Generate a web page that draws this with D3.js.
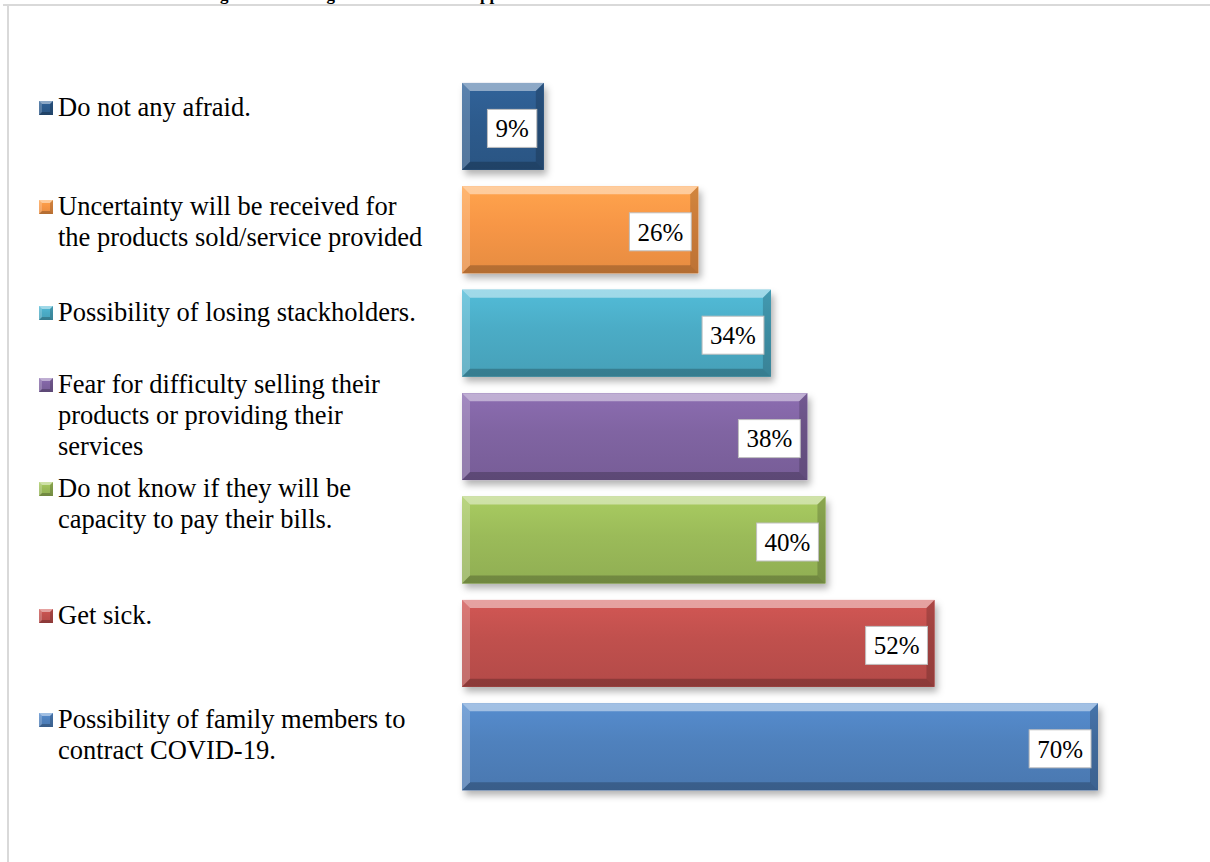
<!DOCTYPE html>
<html>
<head>
<meta charset="utf-8">
<script src="https://cdn.jsdelivr.net/npm/d3@7"></script>
<style>
  html, body { margin: 0; padding: 0; background: #ffffff; }
  svg { display: block; }
</style>
</head>
<body>
<svg id="chart" width="1210" height="862"></svg>
<script>
// Apprehensions of business women in relation to COVID-19 (share of respondents)
const categories = [
  "Do not any afraid.",
  "Uncertainty will be received for the products sold/service provided",
  "Possibility of losing stackholders.",
  "Fear for difficulty selling their products or providing their services",
  "Do not know if they will be capacity to pay their bills.",
  "Get sick.",
  "Possibility of family members to contract COVID-19."
];
const values = [9, 26, 34, 38, 40, 52, 70];
const palette = ["#2D5B8D", "#F79646", "#4BACC6", "#8064A2", "#9BBB59", "#C0504D", "#4F81BD"];
const titleText = "Figure 6: Existing business women's apprehensions in relation to COVID-19";

// legend row baselines (first line of each entry)
const legendRowY = [116, 215, 321, 393, 497, 624, 728];

const W = 1210, H = 862;
const svg = d3.select("#chart");
const serif = "'Times New Roman', 'Liberation Serif', Times, serif";

// frame and caption running off the top edge
svg.append("text")
  .attr("x", 205).attr("y", -0.5)
  .attr("font-family", serif).attr("font-weight", "bold").attr("font-size", 17)
  .attr("fill", "#000").text(titleText);

svg.append("path")
  .attr("d", `M3,5H${W}M8,5V${H}`)
  .attr("fill", "none").attr("stroke", "#d9d9d9").attr("stroke-width", 2);

const x = d3.scaleLinear().domain([0, d3.max(values)]).range([462, 1098]);
const y = d3.scaleBand().domain(categories).range([74.7, 798.5])
  .paddingInner(0.16).paddingOuter(0.08);

const defs = svg.append("defs");
const shadow = defs.append("filter").attr("id", "shadow")
  .attr("x", "-10%").attr("y", "-20%").attr("width", "130%").attr("height", "150%");
shadow.append("feDropShadow").attr("dx", 3).attr("dy", 5)
  .attr("stdDeviation", 3.5).attr("flood-color", "#000").attr("flood-opacity", 0.3);

palette.forEach((c, i) => {
  const g = defs.append("linearGradient").attr("id", "fill" + i)
    .attr("x1", 0).attr("y1", 0).attr("x2", 0).attr("y2", 1);
  g.append("stop").attr("offset", "0%").attr("stop-color", d3.color(c).brighter(0.25));
  g.append("stop").attr("offset", "45%").attr("stop-color", c);
  g.append("stop").attr("offset", "100%").attr("stop-color", d3.color(c).darker(0.2));
});

// bevelled bar: body plus light/dark edge facets
function bevel(sel, x0, y0, w, h, b, i) {
  const x1 = x0 + w, y1 = y0 + h;
  sel.append("rect").attr("x", x0).attr("y", y0).attr("width", w).attr("height", h)
    .attr("fill", `url(#fill${i})`);
  const facet = (pts, col, op) => sel.append("polygon")
    .attr("points", pts.map(p => p.join(",")).join(" "))
    .attr("fill", col).attr("fill-opacity", op);
  facet([[x0, y0], [x1, y0], [x1 - b, y0 + b], [x0 + b, y0 + b]], "#ffffff", 0.45);
  facet([[x0, y1], [x1, y1], [x1 - b, y1 - b], [x0 + b, y1 - b]], "#000000", 0.22);
  facet([[x0, y0], [x0 + b, y0 + b], [x0 + b, y1 - b], [x0, y1]], "#ffffff", 0.2);
  facet([[x1, y0], [x1 - b, y0 + b], [x1 - b, y1 - b], [x1, y1]], "#000000", 0.18);
}

const bars = svg.append("g").selectAll("g.bar")
  .data(categories.map((c, i) => ({ c, v: values[i], i })))
  .join("g").attr("class", "bar");

bars.each(function (d) {
  const g = d3.select(this);
  const bg = g.append("g").attr("filter", "url(#shadow)");
  bg.append("rect").attr("x", x(0)).attr("y", y(d.c))
    .attr("width", x(d.v) - x(0)).attr("height", y.bandwidth())
    .attr("fill", palette[d.i]);
  bevel(g, x(0), y(d.c), x(d.v) - x(0), y.bandwidth(), 8, d.i);

  // value label in a white box at the bar end
  const cy = y(d.c) + y.bandwidth() / 2;
  const lbl = g.append("g");
  const t = lbl.append("text")
    .attr("font-family", serif).attr("font-size", 25).attr("fill", "#000")
    .attr("text-anchor", "middle").attr("dy", "0.35em")
    .text(d.v + "%");
  const tw = t.node().getComputedTextLength();
  const bw = tw + 16, bh = 38;
  const right = x(d.v) - 7;
  lbl.insert("rect", "text")
    .attr("x", right - bw).attr("y", cy - bh / 2 + 2)
    .attr("width", bw).attr("height", bh)
    .attr("fill", "#ffffff").attr("stroke", "#bfbfbf").attr("stroke-width", 1);
  t.attr("x", right - bw / 2).attr("y", cy + 2);
});

// legend
const legend = svg.append("g");
const fontSize = 26.5, lineH = 31, wrapW = 370;

categories.forEach((c, i) => {
  const base = legendRowY[i];
  const item = legend.append("g");
  bevel(item, 39, base - 15, 14, 14, 3, i);

  const text = item.append("text")
    .attr("font-family", serif).attr("font-size", fontSize).attr("fill", "#000");
  const words = c.split(" ");
  let line = [], lineNo = 0;
  let tspan = text.append("tspan").attr("x", 58).attr("y", base);
  words.forEach(w => {
    line.push(w);
    tspan.text(line.join(" "));
    if (tspan.node().getComputedTextLength() > wrapW && line.length > 1) {
      line.pop();
      tspan.text(line.join(" "));
      line = [w];
      lineNo++;
      tspan = text.append("tspan").attr("x", 58).attr("y", base + lineNo * lineH).text(w);
    }
  });
});
</script>
</body>
</html>
